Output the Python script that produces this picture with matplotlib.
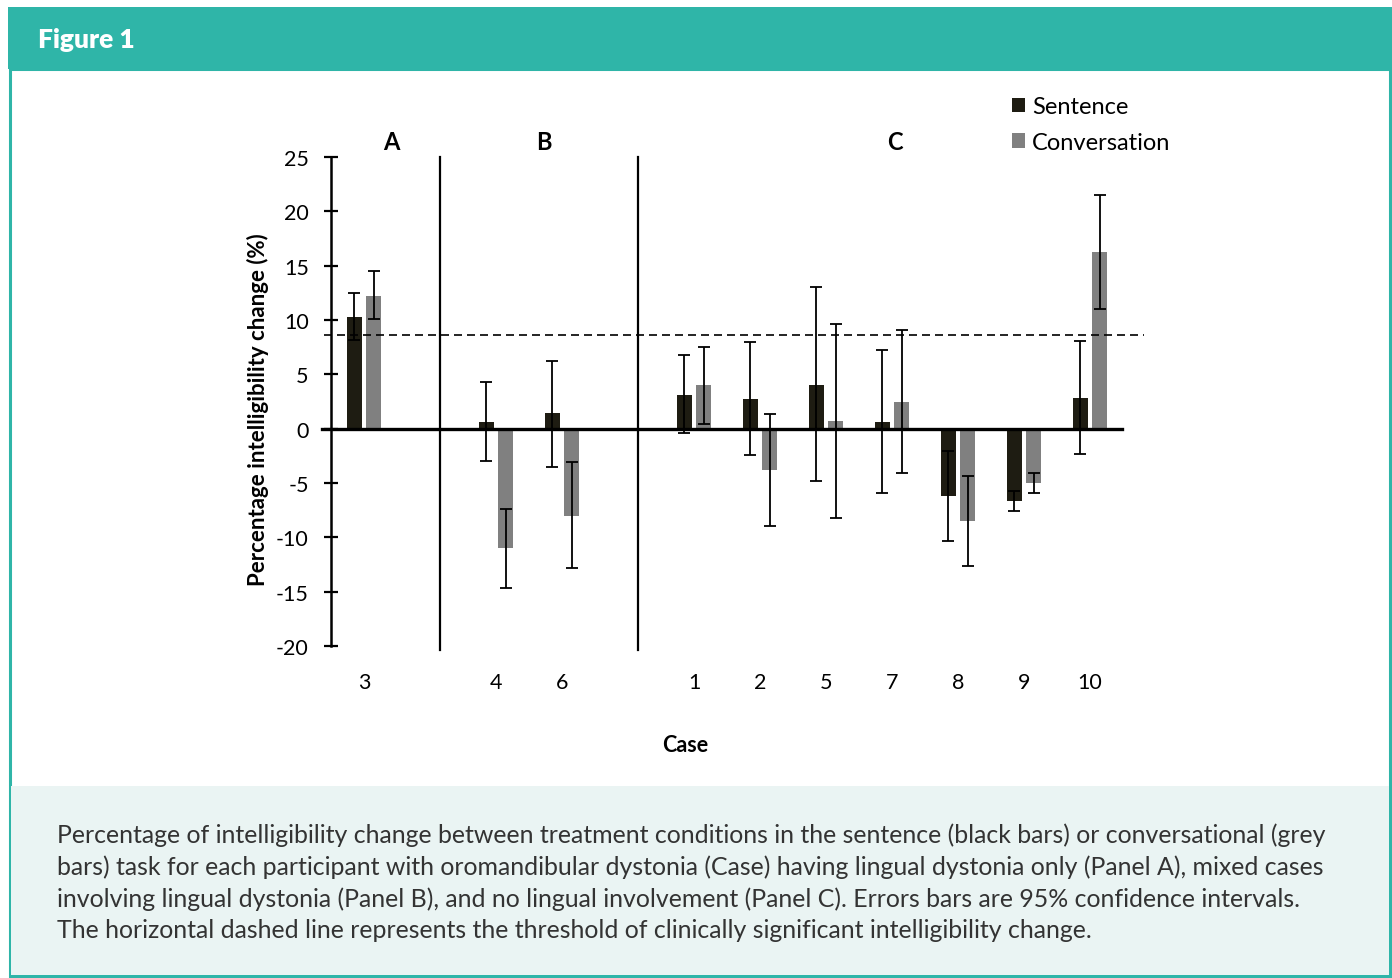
import matplotlib.pyplot as plt
from matplotlib.patches import Rectangle

plt.rcParams['axes.unicode_minus'] = False

# case labels, grouped by panel
cases = ['3', '4', '6', '1', '2', '5', '7', '8', '9', '10']
panel = ['A', 'B', 'B', 'C', 'C', 'C', 'C', 'C', 'C', 'C']

# sentence task: mean change and 95% CI bounds
sent = [10.3, 0.6, 1.4, 3.1, 2.75, 4.05, 0.6, -6.2, -6.65, 2.85]
sent_lo = [8.2, -3.0, -3.5, -0.4, -2.4, -4.8, -5.9, -10.3, -7.6, -2.3]
sent_hi = [12.5, 4.3, 6.25, 6.8, 8.0, 13.05, 7.25, -2.1, -5.7, 8.05]

# conversation task
conv = [12.2, -10.95, -8.0, 4.0, -3.8, 0.7, 2.5, -8.5, -5.0, 16.3]
conv_lo = [10.1, -14.7, -12.85, 0.45, -9.0, -8.25, -4.05, -12.65, -5.9, 11.0]
conv_hi = [14.5, -7.4, -3.1, 7.5, 1.35, 9.6, 9.1, -4.4, -4.1, 21.5]

threshold = 8.65

teal = '#2fb5a8'
dark = '#1e1c12'
grey = '#808080'

W, H = 1392, 979
fig = plt.figure(figsize=(W / 100, H / 100), dpi=100)

def fx(px):
    return px / W

def fy(py):
    return 1 - py / H

# frame, header band and caption box (behind the axes)
fig.patches.append(Rectangle((fx(10), fy(977)), fx(1380), 907 / H, transform=fig.transFigure,
                             facecolor='white', edgecolor=teal, linewidth=2.2, zorder=-3))
fig.patches.append(Rectangle((fx(11), fy(976)), fx(1378), 189 / H, transform=fig.transFigure,
                             facecolor='#eaf4f3', edgecolor='none', zorder=-2))
fig.patches.append(Rectangle((fx(8), fy(70)), fx(1384), 62 / H, transform=fig.transFigure,
                             facecolor=teal, edgecolor='none', zorder=-1))
fig.text(fx(38), fy(40), 'Figure 1', color='white', fontsize=19, fontweight='heavy',
         family='Lato', va='center', ha='left')

caption = ("Percentage of intelligibility change between treatment conditions in the sentence (black bars) or conversational (grey\n"
           "bars) task for each participant with oromandibular dystonia (Case) having lingual dystonia only (Panel A), mixed cases\n"
           "involving lingual dystonia (Panel B), and no lingual involvement (Panel C). Errors bars are 95% confidence intervals.\n"
           "The horizontal dashed line represents the threshold of clinically significant intelligibility change.")
fig.text(fx(57), fy(823), caption, color='#333333', fontsize=17.9, family='Lato',
         va='top', ha='left', linespacing=1.43)

# slot positions: one empty slot between panels
xs = []
pos = 0
for i, p in enumerate(panel):
    if i > 0 and p != panel[i - 1]:
        pos += 1
    xs.append(pos)
    pos += 1

ax = fig.add_axes([fx(331), fy(647), 792 / W, 489 / H])
ax.set_facecolor('none')
ax.set_xlim(-0.5, 11.5)
ax.set_ylim(-20, 25)

bw = 0.22
off = 0.145
xs_s = [x - off for x in xs]
xs_c = [x + off for x in xs]
err_s = [[s - l for s, l in zip(sent, sent_lo)], [h - s for s, h in zip(sent, sent_hi)]]
err_c = [[c - l for c, l in zip(conv, conv_lo)], [h - c for c, h in zip(conv, conv_hi)]]

ax.bar(xs_s, sent, bw, color=dark, label='Sentence', zorder=2)
ax.bar(xs_c, conv, bw, color=grey, label='Conversation', zorder=2)
ax.errorbar(xs_s, sent, yerr=err_s, fmt='none', ecolor='black', elinewidth=1.3,
            capsize=4.5, capthick=1.3, zorder=4)
ax.errorbar(xs_c, conv, yerr=err_c, fmt='none', ecolor='black', elinewidth=1.3,
            capsize=4.5, capthick=1.3, zorder=4)

# zero line and threshold line
ax.plot([-0.64, 11.48], [0, 0], color='black', linewidth=2.4, clip_on=False, zorder=5)
dash, = ax.plot([-0.6, 11.82], [threshold, threshold], color='black', linewidth=1.2,
                clip_on=False, zorder=3)
dash.set_dashes((4.8, 3))

# panel separators and labels
for i in range(1, len(panel)):
    if panel[i] != panel[i - 1]:
        sx = (xs[i] + xs[i - 1]) / 2 + 0.15
        ax.plot([sx, sx], [25, -20.4], color='black', linewidth=1.6, clip_on=False, zorder=3)

panel_names = ['A', 'B', 'C']
label_shift = {'A': 0.41, 'B': 0.23, 'C': 0.05}
for p in panel_names:
    px = [x for x, q in zip(xs, panel) if q == p]
    cx = (min(px) + max(px)) / 2 + label_shift[p]
    ax.text(cx, 26.4, p, ha='center', va='center', fontsize=17, fontweight='bold',
            family='Lato', clip_on=False)

for s in ['top', 'right', 'bottom']:
    ax.spines[s].set_visible(False)
ax.spines['left'].set_linewidth(1.8)
ax.set_yticks(range(-20, 26, 5))
ax.tick_params(axis='y', direction='inout', length=10, width=1.6, pad=11, labelsize=15.5)
ax.set_xticks(xs)
ax.set_xticklabels(cases)
ax.tick_params(axis='x', length=0, pad=19, labelsize=15.5)
for t in ax.get_xticklabels() + ax.get_yticklabels():
    t.set_family('Lato')

ax.set_ylabel('Percentage intelligibility change (%)', fontsize=16, fontweight='bold',
              family='Lato')
ax.yaxis.set_label_coords((258 - 331) / 792, (647 - 410) / 489)
ax.yaxis.label.set_va('center')
ax.set_xlabel('Case', fontsize=15.5, fontweight='bold', family='Lato')
ax.xaxis.set_label_coords((685 - 331) / 792, (647 - 746) / 489)
ax.xaxis.label.set_va('center')

leg = fig.legend(loc='upper left', bbox_to_anchor=(fx(991), fy(76)), frameon=False,
                 handlelength=0.55, handleheight=0.55, handletextpad=0.3, labelspacing=0.62,
                 prop={'family': 'Lato', 'size': 17})

fig.savefig('out.png', dpi=100)
